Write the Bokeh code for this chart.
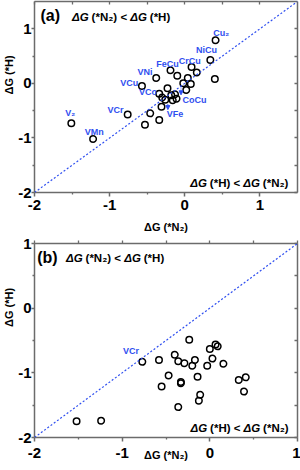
from bokeh.plotting import figure
from bokeh.layouts import column
from bokeh.models import (Range1d, LinearAxis, Label, FixedTicker,
                          ColumnDataSource, LabelSet, Slope, Arrow, NormalHead)
from bokeh.core.properties import value
from bokeh.embed import file_html
from bokeh.resources import INLINE

FONT = "Liberation Sans"
BLUE = "#2f4ff0"
AXC = "#6b6b6b"

# ---------------- data: panel (a) ----------------
a_dG_N2 = [-1.51, -1.22, -0.76, -0.57, -0.38, -0.19, -0.10, 0.04, 0.09, 0.16,
           0.34, 0.41, 0.40, -0.02, 0.08, 0.02, -0.23, -0.34, -0.30, -0.26,
           -0.18, -0.13, -0.16, -0.11, -0.31, -0.46, -0.34, -0.53]
a_dG_H = [-0.73, -1.02, -0.57, -0.05, 0.10, 0.24, 0.14, 0.10, 0.30, 0.20,
          0.43, 0.79, 0.08, 0.00, -0.01, -0.12, -0.09, -0.19, -0.26, -0.30,
          -0.22, -0.20, -0.31, -0.28, -0.43, -0.55, -0.67, -0.76]
a_names = ["Cu₂", "NiCu", "CrCu", "FeCu", "VNi", "VCu", "VCo", "CoCu", "VFe",
           "VCr", "V₂", "VMn"]
a_name_x = [0.38, 0.15, -0.08, -0.38, -0.63, -0.86, -0.61, -0.03, -0.24,
            -1.03, -1.59, -1.33]
a_name_y = [0.93, 0.61, 0.41, 0.36, 0.21, 0.0, -0.16, -0.30, -0.57,
            -0.48, -0.54, -0.89]
a_arrow_x = [-0.05, -0.225]
a_arrow_y0 = [-0.04, -0.38]
a_arrow_y1 = [-0.21, -0.48]

# ---------------- data: panel (b) ----------------
b_dG_N2 = [-0.77, -0.58, -0.235, -0.40, -0.36, -0.29, -0.17, -0.20, -0.03,
           0.03, 0.00, 0.065, 0.09, -0.47, -0.55, -0.33, -0.33, -0.14, -0.11,
           -0.125, -0.36, 0.155, 0.33, 0.41, 0.39, -1.52, -1.24]
b_dG_H = [-0.83, -0.80, -0.49, -0.72, -0.82, -0.85, -0.80, -0.89, -0.89,
          -0.78, -0.63, -0.56, -0.59, -1.04, -1.21, -1.14, -1.16, -1.06, -1.34,
          -1.43, -1.53, -0.86, -1.11, -1.07, -1.29, -1.75, -1.74]
b_names = ["VCr"]
b_name_x = [-0.99]
b_name_y = [-0.66]

major_ticks = [-2, -1, 0, 1]
minor_ticks = [-1.5, -0.5, 0.5]
tick_text = {-2: "-2", -1: "-1", 0: "0", 1: "1"}

W = {'Δ': 0.64, 'G': 0.778, '(': 0.333, ')': 0.333, '*': 0.389, 'N': 0.722,
     'H': 0.722, '₂': 0.45, '<': 0.584, ' ': 0.278}


def tw(s):
    return sum(W.get(c, 0.6) for c in s)


def rich(p, x, y, parts, size, align):
    total = sum(tw(t) + g for t, _, g in parts) * size
    off = 0 if align == "left" else -total
    for t, it, g in parts:
        off += g * size
        p.add_layout(Label(x=x, y=y, x_offset=off, text=t, text_font=FONT,
                           text_font_size=f"{size}px",
                           text_font_style="bold italic" if it else "bold",
                           text_color="black", text_baseline="middle",
                           text_align="left"))
        off += tw(t) * size


def base_axis(ax):
    ax.axis_line_color = AXC
    ax.axis_line_width = 1.5
    ax.major_tick_line_color = AXC
    ax.major_tick_line_width = 1.5
    ax.minor_tick_line_color = AXC
    ax.minor_tick_line_width = 1.3


def label_axis(ax, standoff):
    ax.ticker = FixedTicker(ticks=major_ticks, minor_ticks=minor_ticks)
    base_axis(ax)
    ax.major_tick_in, ax.major_tick_out = 0, 4
    ax.minor_tick_in, ax.minor_tick_out = 0, 2
    ax.major_label_overrides = tick_text
    ax.major_label_text_font = FONT
    ax.major_label_text_font_size = "15px"
    ax.major_label_text_font_style = "bold"
    ax.major_label_text_color = "black"
    ax.major_label_standoff = standoff


def tick_only_axis(inside):
    ax = LinearAxis(ticker=FixedTicker(ticks=[],
                                       minor_ticks=major_ticks + minor_ticks))
    base_axis(ax)
    ax.major_tick_in = ax.major_tick_out = 0
    if inside:
        ax.minor_tick_in, ax.minor_tick_out = 3, 0
    else:
        ax.minor_tick_in, ax.minor_tick_out = 0, 3
    return ax


def set_title(ax, text, standoff):
    ax.axis_label = text
    ax.axis_label_text_font = FONT
    ax.axis_label_text_font_size = "11px"
    ax.axis_label_text_font_style = "bold"
    ax.axis_label_text_color = "black"
    ax.axis_label_standoff = standoff


def make_panel(h, xmax, ymax, top_border, bottom_border, top_inside,
               xtick_standoff, xlabel_standoff, ylabel_text,
               xs, ys, names, nx, ny):
    p = figure(width=300, height=h, x_range=Range1d(-2, xmax),
               y_range=Range1d(-2, ymax), output_backend="svg",
               toolbar_location=None, title_location=None,
               min_border_left=33, min_border_right=3,
               min_border_top=top_border, min_border_bottom=bottom_border)
    p.xgrid.visible = False
    p.ygrid.visible = False
    p.outline_line_color = None
    p.background_fill_color = "white"
    p.border_fill_color = "white"

    label_axis(p.xaxis[0], xtick_standoff)
    label_axis(p.yaxis[0], 0)
    p.yaxis[0].major_tick_out = 3
    set_title(p.xaxis[0], "ΔG (*N₂)", xlabel_standoff)
    set_title(p.yaxis[0], ylabel_text, 0)

    p.add_layout(tick_only_axis(top_inside), "above")
    p.add_layout(tick_only_axis(True), "right")

    p.add_layout(Slope(gradient=1, y_intercept=0, line_color=BLUE,
                       line_width=1.2, line_dash="2 2"))

    p.scatter(xs, ys, marker="circle", size=6.5, fill_color=None,
              line_color="black", line_width=1.5)

    src = ColumnDataSource(dict(x=nx, y=ny, t=names))
    p.add_layout(LabelSet(x="x", y="y", text="t", source=src,
                          text_font=value(FONT),
                          text_font_size=value("9px"),
                          text_font_style=value("bold"),
                          text_color=value(BLUE), text_align=value("left"),
                          text_baseline=value("middle")))
    return p


EM = "\u2003"
p1 = make_panel(235, 1.5, 1.5, 1, 0, True, 3, 8, EM * 4 + "ΔG (*H)",
                a_dG_N2, a_dG_H, a_names, a_name_x, a_name_y)
p2 = make_panel(235, 1.0, 1.0, 8, 33, False, 6, -12, EM * 6 + "ΔG (*H)",
                b_dG_N2, b_dG_H, b_names, b_name_x, b_name_y)

for xa, ya0, ya1 in zip(a_arrow_x, a_arrow_y0, a_arrow_y1):
    p1.add_layout(Arrow(x_start=xa, y_start=ya0, x_end=xa, y_end=ya1,
                        line_color=BLUE, line_width=1, line_dash="1 1",
                        end=NormalHead(size=4, fill_color=BLUE,
                                       line_color=BLUE)))

p1.add_layout(Label(x=-1.92, y=1.25, text="(a)", text_font=FONT,
                    text_font_size="16px", text_font_style="bold",
                    text_color="black", text_baseline="middle"))
p2.add_layout(Label(x=-1.97, y=0.78, text="(b)", text_font=FONT,
                    text_font_size="16px", text_font_style="bold",
                    text_color="black", text_baseline="middle"))

line1 = [("ΔG", True, 0), ("(*N₂)", False, 0.278), ("<", False, 0.278),
         ("ΔG", True, 0.278), ("(*H)", False, 0.278)]
line2 = [("ΔG", True, 0), ("(*H)", False, 0.278), ("<", False, 0.278),
         ("ΔG", True, 0.278), ("(*N₂)", False, 0.278)]

rich(p1, -1.50, 1.21, line1, 11.5, "left")
rich(p1, 1.38, -1.82, line2, 11.5, "right")
rich(p2, -1.64, 0.77, line1, 11.5, "left")
rich(p2, 0.90, -1.86, line2, 11.5, "right")

layout = column(p1, p2)
open("out.html", "w").write(file_html(layout, INLINE))
